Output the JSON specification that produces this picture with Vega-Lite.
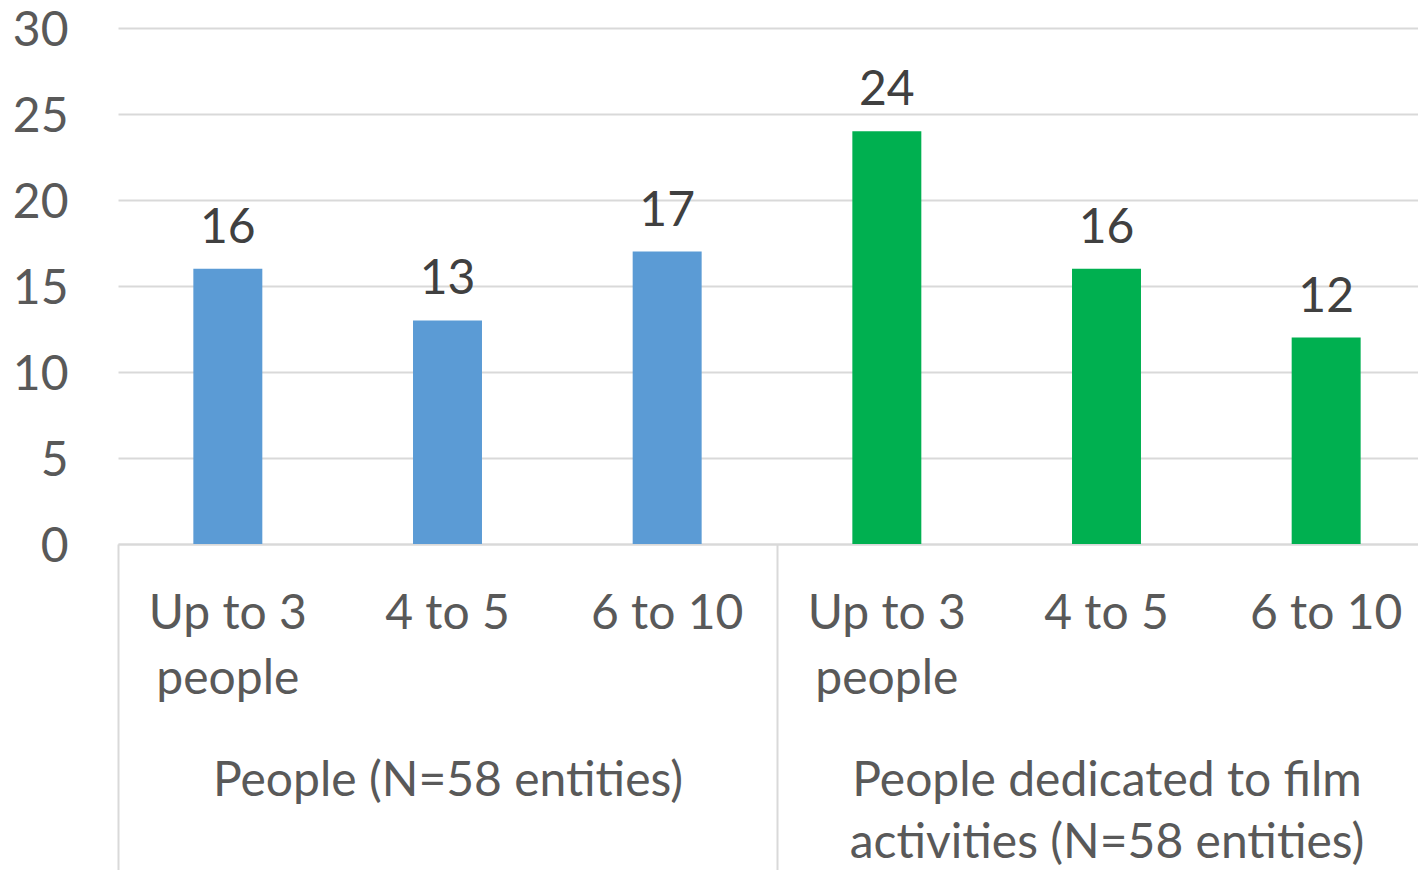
{
  "$schema": "https://vega.github.io/schema/vega-lite/v6.json",
  "width": 1300,
  "height": 516,
  "autosize": {"type": "none"},
  "padding": {"left": 118, "top": 28, "right": 0, "bottom": 326},
  "background": "white",
  "config": {"view": {"stroke": null}, "font": "Lato"},
  "data": {
    "values": [
      {"id": "A1", "group": "People (N=58 entities)", "value": 16},
      {"id": "A2", "group": "People (N=58 entities)", "value": 13},
      {"id": "A3", "group": "People (N=58 entities)", "value": 17},
      {"id": "B1", "group": "People dedicated to film activities (N=58 entities)", "value": 24},
      {"id": "B2", "group": "People dedicated to film activities (N=58 entities)", "value": 16},
      {"id": "B3", "group": "People dedicated to film activities (N=58 entities)", "value": 12}
    ]
  },
  "layer": [
    {
      "encoding": {
        "x": {
          "field": "id",
          "type": "nominal",
          "sort": null,
          "scale": {"type": "band", "range": [0, 1318], "paddingInner": 0.686, "paddingOuter": 0.343},
          "axis": {
            "orient": "bottom",
            "title": null,
            "grid": false,
            "ticks": false,
            "domain": true,
            "domainColor": "#D9D9D9",
            "domainWidth": 2,
            "labelAngle": 0,
            "labelFont": "Lato",
            "labelFontSize": 48,
            "labelColor": "#595959",
            "labelBaseline": "top",
            "labelPadding": 46,
            "labelLineHeight": 65,
            "labelLimit": 0,
            "labelExpr": "indexof(['A1','B1'], datum.value) >= 0 ? ['Up to 3', 'people'] : (indexof(['A2','B2'], datum.value) >= 0 ? '4 to 5' : (indexof(['A3','B3'], datum.value) >= 0 ? '6 to 10' : ''))"
          }
        },
        "y": {
          "field": "value",
          "type": "quantitative",
          "scale": {"domain": [0, 30]},
          "axis": {
            "title": null,
            "values": [0, 5, 10, 15, 20, 25, 30],
            "domain": false,
            "ticks": false,
            "labelPadding": 50,
            "labelOffset": 3,
            "labelFont": "Lato",
            "labelFontSize": 48,
            "labelColor": "#595959",
            "grid": true,
            "gridColor": "#D9D9D9",
            "gridWidth": 2
          }
        }
      },
      "layer": [
        {
          "mark": {"type": "bar"},
          "encoding": {
            "color": {
              "field": "group",
              "type": "nominal",
              "scale": {
                "domain": ["People (N=58 entities)", "People dedicated to film activities (N=58 entities)"],
                "range": ["#5B9BD5", "#00B050"]
              },
              "legend": null
            }
          }
        },
        {
          "mark": {"type": "text", "baseline": "alphabetic", "dy": -26, "fontSize": 48, "font": "Lato", "color": "#404040"},
          "encoding": {"text": {"field": "value", "type": "quantitative"}}
        }
      ]
    },
    {
      "mark": {"type": "point", "opacity": 0},
      "encoding": {
        "x": {
          "field": "group",
          "type": "nominal",
          "sort": null,
          "scale": {"type": "band", "range": [0, 1318], "paddingInner": 0, "paddingOuter": 0},
          "axis": {
            "orient": "bottom",
            "title": null,
            "grid": false,
            "domain": false,
            "ticks": true,
            "tickBand": "extent",
            "tickSize": 326,
            "tickColor": "#D9D9D9",
            "tickWidth": 2,
            "labelAngle": 0,
            "labelFont": "Lato",
            "labelFontSize": 48,
            "labelColor": "#595959",
            "labelBaseline": "top",
            "labelPadding": -113,
            "labelLineHeight": 62,
            "labelLimit": 0,
            "labelExpr": "datum.value == 'People (N=58 entities)' ? 'People (N=58 entities)' : (datum.value == 'People dedicated to film activities (N=58 entities)' ? ['People dedicated to film', 'activities (N=58 entities)'] : '')"
          }
        },
        "y": {"field": "value", "type": "quantitative"}
      }
    }
  ],
  "resolve": {"scale": {"x": "independent"}, "axis": {"x": "independent"}}
}
